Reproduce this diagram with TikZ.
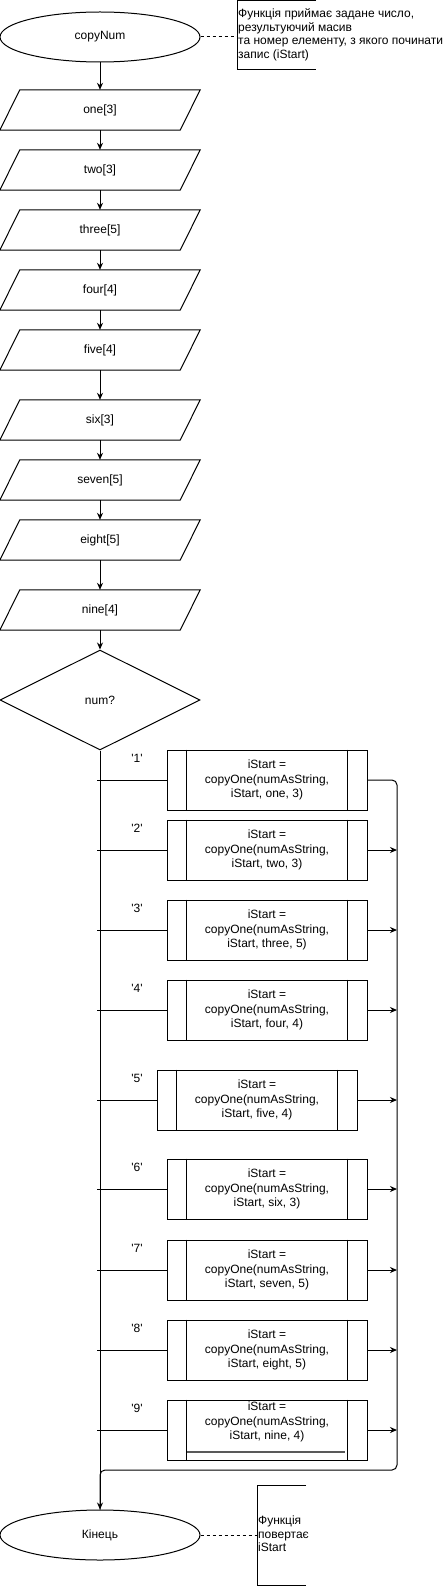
\documentclass[tikz,border=0pt]{standalone}
\usepackage{fontspec}
\setmainfont{Liberation Sans}[Ligatures=TeXOff]
\usetikzlibrary{shapes.geometric,arrows.meta}
\tikzset{
 base/.style={font=\fontsize{12}{14.5}\selectfont, inner sep=0pt},
 term/.style={base, draw, line width=1pt, ellipse, minimum width=200pt, minimum height=50pt},
 io/.style={base, minimum width=200pt, minimum height=40pt},
 cond/.style={base, draw, line width=1pt, diamond, aspect=2, minimum width=200pt, minimum height=100pt},
 proc/.style={base, draw, line width=1pt, rectangle, minimum width=200pt, minimum height=60pt, align=center},
 lbl/.style={base},
 note/.style={inner sep=0.5pt, align=left, font=\fontsize{12}{13.5}\selectfont},
 flow/.style={line width=1pt, -{Stealth[length=7pt,width=6pt]}},
 ln/.style={line width=1pt},
 dsh/.style={line width=1pt, dash pattern=on 3pt off 3pt},
}
\begin{document}
\begin{tikzpicture}[x=1pt,y=-1pt]
\useasboundingbox (0,0) rectangle (445,1586);
% start
\node[term] (start) at (100,37) {copyNum};
% top annotation
\draw[ln] (316,1) -- (237,1) -- (237,70) -- (316,70);
\coordinate (a1) at (237,37);
\node[note, anchor=west] (n1) at (237.5,35) {Функція приймає задане число,\\результуючий масив\\та номер елементу, з якого починати\\запис (iStart)};
\draw[dsh] (start.east) -- (a1);
% arrays
\foreach \i/\t/\y in {1/one[3]/110,2/two[3]/170,3/three[5]/230,4/four[4]/290,5/five[4]/350,6/six[3]/420,7/seven[5]/480,8/eight[5]/540,9/nine[4]/610}{
  \node[io] (p\i) at (100,\y) {\t};
  \draw[ln] ([xshift=20pt]p\i.north west) -- (p\i.north east) -- ([xshift=-20pt]p\i.south east) -- (p\i.south west) -- cycle;
}
\draw[flow] (start.south) -- (p1.north);
\foreach \i/\j in {1/2,2/3,3/4,4/5,5/6,6/7,7/8,8/9}{
  \draw[flow] (p\i.south) -- (p\j.north);
}
% decision
\node[cond] (dia) at (100,700) {num?};
\draw[flow] (p9.south) -- (dia.north);
% process boxes
\foreach \i/\bx/\by/\a/\n in {1/267/780/one/3,2/267/850/two/3,3/267/930/three/5,4/267/1010/four/4,5/257/1100/five/4,6/267/1189/six/3,7/267/1270/seven/5,8/267/1350/eight/5}{
  \node[proc] (b\i) at (\bx,\by) {iStart =\\copyOne(numAsString,\\iStart, \a, \n)};
}
\node[proc] (b9) at (267,1430) {};
\node[base, align=center] (t9) at (267,1422) {iStart =\\copyOne(numAsString,\\iStart, nine, 4)};
\draw[line width=1.5pt, black!65] (187,1452) -- (345,1452);
\foreach \i in {1,...,9}{
  \draw[ln] ([xshift=20pt]b\i.north west) -- ([xshift=20pt]b\i.south west);
  \draw[ln] ([xshift=-20pt]b\i.north east) -- ([xshift=-20pt]b\i.south east);
}
% case labels and branch lines
\foreach \i/\y in {1/780,2/850,3/930,4/1010,5/1100,6/1189,7/1270,8/1350,9/1430}{
  \node[lbl] (l\i) at (137,\y-21.5) {'\i'};
  \coordinate (s\i) at (97,\y);
  \coordinate (r\i) at (397,\y);
  \draw[ln] (s\i) -- (b\i.west);
}
\foreach \i in {2,...,9}{
  \draw[flow] (b\i.east) -- (r\i);
}
% end
\node[term] (endE) at (100,1535) {Кінець};
\coordinate (rt) at (397,780);
\coordinate (rb) at (397,1470);
\coordinate (lb) at (100,1470);
\draw[ln, rounded corners=5pt] (b1.east) -- (rt) -- (rb) -- (lb) -- (endE.north);
\draw[flow] (dia.south) -- (endE.north);
% bottom annotation
\draw[ln] (306,1485) -- (257,1485) -- (257,1585) -- (306,1585);
\coordinate (a2) at (257,1535);
\node[note, anchor=west] (n2) at (257.5,1534) {Функція\\повертає\\iStart};
\draw[dsh] (endE.east) -- (a2);
\end{tikzpicture}
\end{document}
